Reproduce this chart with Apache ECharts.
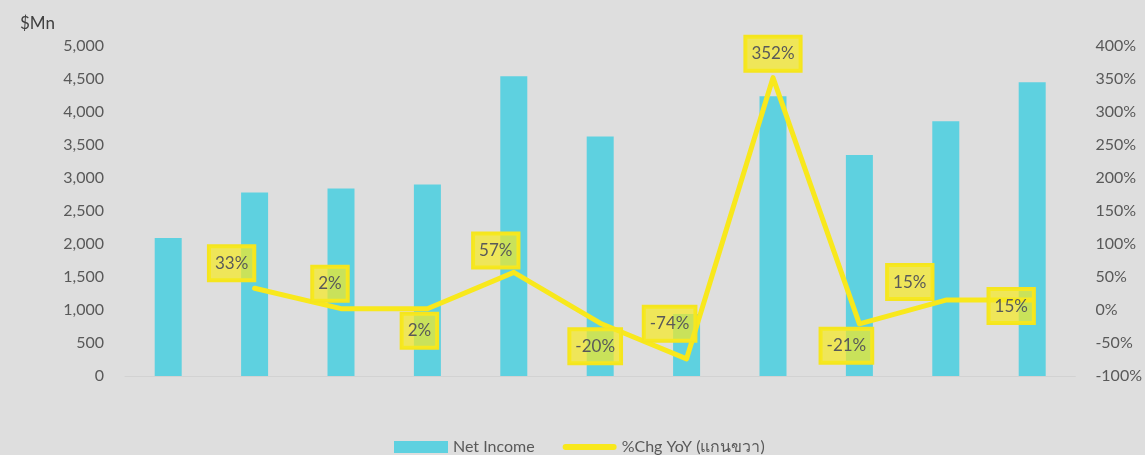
<!DOCTYPE html>
<html>
<head>
<meta charset="utf-8">
<script src="https://cdn.jsdelivr.net/npm/echarts@6/dist/echarts.min.js"></script>
<style>
  html, body { margin: 0; padding: 0; background: #dedede; }
  #chart { width: 1145px; height: 455px; }
</style>
</head>
<body>
<div id="chart"></div>
<script>
// data
var categories = ['1', '2', '3', '4', '5', '6', '7', '8', '9', '10', '11'];
var netIncome = [2090, 2780, 2840, 2900, 4540, 3630, 940, 4240, 3350, 3860, 4450];
var chgYoY = [null, 33, 2, 2, 57, -20, -74, 352, -21, 15, 15];
var leftTicks = { min: 0, max: 5000, interval: 500 };
var rightTicks = { min: -100, max: 400, interval: 50 };

// where each data label sits relative to its point (label box was moved by hand in the original)
var labelOffsets = [null, [-23, -25], [-11, -25], [-8, 22], [-18, -22], [-5, 23],
  [-17, -35], [0, -24], [-13, 22], [-36, -18], [-21, 6]];

var fontFam = 'Lato, "Noto Sans", sans-serif';
var textCol = '#595959';
var yellow = '#f8e81c';

var myChart = echarts.init(document.getElementById('chart'));
var option = {
  backgroundColor: '#dedede',
  animation: false,
  title: {
    text: '$Mn',
    left: 15,
    top: 10,
    textStyle: { fontFamily: fontFam, fontSize: 17, fontWeight: 'normal', color: '#404040' }
  },
  grid: { left: 125, right: 65, top: 46, bottom: 79 },
  legend: {
    left: 389,
    top: 434,
    itemGap: 28,
    itemWidth: 54,
    itemHeight: 12,
    textStyle: { fontFamily: fontFam, fontSize: 16, color: textCol },
    data: [
      { name: 'Net Income', icon: 'rect' },
      { name: '%Chg YoY (แกนขวา)', icon: 'path://M3,0 L52,0 A3,3 0 0 1 52,6 L3,6 A3,3 0 0 1 3,0 Z',
        itemStyle: { color: yellow } }
    ]
  },
  xAxis: {
    type: 'category',
    data: categories,
    axisTick: { show: false },
    axisLabel: { show: false },
    axisLine: { lineStyle: { color: '#d2d2d2', width: 1 } }
  },
  yAxis: [
    {
      type: 'value',
      min: leftTicks.min,
      max: leftTicks.max,
      interval: leftTicks.interval,
      splitLine: { show: false },
      axisLine: { show: false },
      axisTick: { show: false },
      axisLabel: {
        margin: 21,
        fontFamily: fontFam,
        fontSize: 16,
        color: textCol,
        formatter: function (v) { return v.toLocaleString('en-US'); }
      }
    },
    {
      type: 'value',
      min: rightTicks.min,
      max: rightTicks.max,
      interval: rightTicks.interval,
      splitLine: { show: false },
      axisLine: { show: false },
      axisTick: { show: false },
      axisLabel: {
        margin: 20,
        fontFamily: fontFam,
        fontSize: 16,
        color: textCol,
        formatter: '{value}%'
      }
    }
  ],
  series: [
    {
      name: 'Net Income',
      type: 'bar',
      data: netIncome,
      barWidth: 27,
      itemStyle: { color: '#5ed1e0' }
    },
    {
      name: '%Chg YoY (แกนขวา)',
      type: 'line',
      yAxisIndex: 1,
      data: chgYoY,
      symbol: 'circle',
      symbolSize: 2,
      showSymbol: true,
      itemStyle: { color: yellow },
      lineStyle: { color: yellow, width: 5, cap: 'round', join: 'round' },
      z: 5,
      labelLayout: function (params) {
        var off = labelOffsets[params.dataIndex] || [0, 0];
        return { dx: off[0], dy: off[1], hideOverlap: false };
      },
      label: {
        show: true,
        position: 'inside',
        formatter: '{c}%',
        fontFamily: fontFam,
        fontSize: 17,
        color: textCol,
        backgroundColor: 'rgba(246, 233, 33, 0.7)',
        borderColor: '#f5e51e',
        borderWidth: 2,
        padding: [9, 6, 8, 6]
      }
    }
  ]
};
myChart.setOption(option);
</script>
</body>
</html>
